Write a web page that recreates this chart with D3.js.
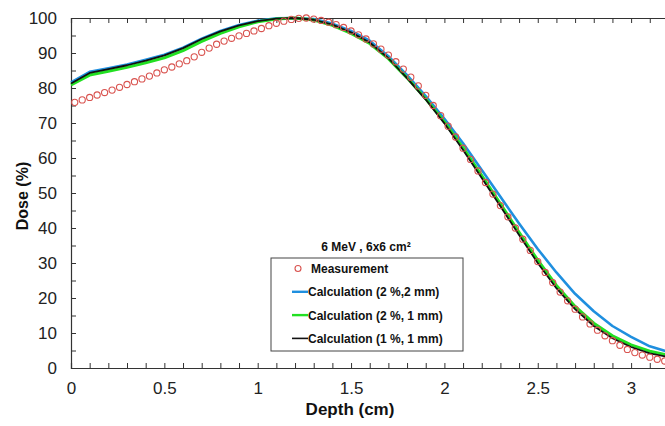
<!DOCTYPE html>
<html>
<head>
<meta charset="utf-8">
<script src="https://cdn.jsdelivr.net/npm/d3@7"></script>
<style>
  html, body { margin: 0; padding: 0; background: #fff; }
  svg { display: block; font-family: "Liberation Sans", Arial, sans-serif; }
</style>
</head>
<body>
<svg id="chart" width="665" height="426"></svg>
<script>
// Measurement points (depth in cm, dose in %)
const measDepth = [
  0.02, 0.06, 0.10, 0.14, 0.18, 0.22, 0.26, 0.30, 0.34, 0.38,
  0.42, 0.46, 0.50, 0.54, 0.58, 0.62, 0.66, 0.70, 0.74, 0.78,
  0.82, 0.86, 0.90, 0.94, 0.98, 1.02, 1.06, 1.10, 1.14, 1.18,
  1.22, 1.26, 1.30, 1.34, 1.38, 1.42, 1.46, 1.50, 1.54, 1.58,
  1.62, 1.66, 1.70, 1.74, 1.78, 1.82, 1.86, 1.90, 1.94, 1.98,
  2.02, 2.06, 2.10, 2.14, 2.18, 2.22, 2.26, 2.30, 2.34, 2.38,
  2.42, 2.46, 2.50, 2.54, 2.58, 2.62, 2.66, 2.70, 2.74, 2.78,
  2.82, 2.86, 2.90, 2.94, 2.98, 3.02, 3.06, 3.10, 3.14, 3.18
];
const measDose = [
  75.9, 76.6, 77.3, 78.0, 78.7, 79.4, 80.2, 81.0, 81.8, 82.6,
  83.4, 84.3, 85.2, 86.0, 86.9, 87.8, 88.9, 90.2, 91.4, 92.5,
  93.4, 94.2, 94.9, 95.6, 96.3, 97.0, 97.8, 98.5, 99.1, 99.6,
  99.9, 100.0, 99.7, 99.3, 98.8, 98.1, 97.3, 96.3, 95.2, 94.0,
  92.6, 91.1, 89.4, 87.5, 85.4, 83.1, 80.6, 77.9, 75.0, 72.1,
  69.1, 66.0, 62.8, 59.6, 56.3, 53.0, 49.7, 46.4, 43.2, 40.0,
  36.8, 33.6, 30.4, 27.3, 24.4, 21.7, 19.2, 16.8, 14.6, 12.6,
  10.8, 9.2, 7.8, 6.5, 5.3, 4.4, 3.7, 3.1, 2.5, 2.0
];

// Calculated curves, sampled every 0.1 cm
const calcDepth = [
  0.0, 0.1, 0.2, 0.3, 0.4, 0.5, 0.6, 0.7, 0.8, 0.9, 1.0,
  1.1, 1.2, 1.3, 1.4, 1.5, 1.6, 1.7, 1.8, 1.9, 2.0, 2.1,
  2.2, 2.3, 2.4, 2.5, 2.6, 2.7, 2.8, 2.9, 3.0, 3.1, 3.2
];
const calc2pc2mm = [
  81.6, 84.6, 85.6, 86.7, 88.1, 89.5, 91.5, 94.1, 96.3, 98.0, 99.2,
  99.9, 100.0, 99.7, 98.4, 96.3, 93.5, 89.1, 83.7, 77.7, 71.2, 64.2,
  56.6, 48.9, 41.3, 34.0, 27.3, 21.2, 16.2, 12.0, 8.9, 6.2, 4.6
];
const calc2pc1mm = [
  80.9, 83.7, 84.8, 85.9, 87.2, 88.6, 90.7, 93.3, 95.6, 97.5, 98.9,
  99.7, 100.0, 99.4, 97.9, 95.6, 92.7, 88.4, 82.9, 76.9, 70.3, 62.9,
  55.0, 46.9, 38.8, 30.8, 23.6, 17.6, 12.8, 9.2, 6.6, 4.8, 3.6
];
const calc1pc1mm = [
  81.3, 84.3, 85.4, 86.5, 87.8, 89.3, 91.4, 94.0, 96.2, 97.9, 99.1,
  99.8, 100.0, 99.5, 98.1, 95.9, 93.0, 88.5, 82.8, 76.7, 69.9, 62.3,
  54.3, 46.2, 38.0, 30.0, 22.8, 16.8, 12.0, 8.5, 6.0, 4.2, 3.1
];

const seriesNames = ['Measurement', 'Calculation (2 %,2 mm)', 'Calculation (2 %, 1 mm)', 'Calculation (1 %, 1 mm)'];
const seriesColors = ['#d9534f', '#1f8fdf', '#22e022', '#111111'];
const xMajor = [0, 0.5, 1, 1.5, 2, 2.5, 3];
const yMajor = [0, 10, 20, 30, 40, 50, 60, 70, 80, 90, 100];

const svg = d3.select('#chart');
const plotLeft = 71, plotTop = 18, plotBottom = 368;

const x = d3.scaleLinear().domain([0, 3.2]).range([plotLeft, plotLeft + 3.2 * 186.7]);
const y = d3.scaleLinear().domain([0, 100]).range([plotBottom, plotTop]);

const axisColor = '#333';

// Minor ticks
svg.append('g').attr('transform', `translate(0,${plotBottom})`)
  .call(d3.axisBottom(x).tickValues(d3.range(0, 3.21, 0.1)).tickSize(-5).tickFormat(''));
svg.append('g').attr('transform', `translate(0,${plotTop})`)
  .call(d3.axisTop(x).tickValues(d3.range(0, 3.21, 0.1)).tickSize(-5).tickFormat(''));
svg.append('g').attr('transform', `translate(${plotLeft},0)`)
  .call(d3.axisLeft(y).tickValues(d3.range(0, 101, 5)).tickSize(-5).tickFormat(''));

// Labelled ticks
svg.append('g').attr('class', 'lab').attr('transform', `translate(0,${plotBottom})`)
  .call(d3.axisBottom(x).tickValues(xMajor).tickSize(0).tickPadding(14).tickFormat(d3.format('')));
svg.append('g').attr('class', 'lab').attr('transform', `translate(${plotLeft},0)`)
  .call(d3.axisLeft(y).tickValues(yMajor).tickSize(0).tickPadding(14).tickFormat(d3.format('')));

svg.selectAll('.domain').attr('stroke', axisColor).attr('stroke-width', 1.2);
svg.selectAll('.tick line').attr('stroke', axisColor);
svg.selectAll('.lab .domain').remove();
svg.selectAll('.lab text').attr('font-size', 17).attr('fill', '#222')
  .attr('font-family', '"Liberation Sans", Arial, sans-serif');

// Axis titles
svg.append('text')
  .attr('x', 350).attr('y', 415)
  .attr('text-anchor', 'middle')
  .attr('font-size', 17).attr('font-weight', 'bold').attr('fill', '#111')
  .text('Depth (cm)');
svg.append('text')
  .attr('transform', 'translate(28,196) rotate(-90)')
  .attr('text-anchor', 'middle')
  .attr('font-size', 16).attr('font-weight', 'bold').attr('fill', '#111')
  .text('Dose (%)');

// Calculated curves
const line = d3.line().x((d, i) => x(calcDepth[i])).y(d => y(d));
const calcs = [
  { values: calc2pc2mm, color: seriesColors[1], width: 2.6 },
  { values: calc2pc1mm, color: seriesColors[2], width: 3 },
  { values: calc1pc1mm, color: seriesColors[3], width: 1.8 }
];
svg.append('g').selectAll('path')
  .data(calcs)
  .enter().append('path')
  .attr('d', d => line(d.values))
  .attr('fill', 'none')
  .attr('stroke', d => d.color)
  .attr('stroke-width', d => d.width)
  .attr('stroke-linejoin', 'round');

// Measurement circles
svg.append('g').selectAll('circle')
  .data(measDose)
  .enter().append('circle')
  .attr('cx', (d, i) => x(measDepth[i]))
  .attr('cy', d => y(d))
  .attr('r', 3.1)
  .attr('fill', 'none')
  .attr('stroke', seriesColors[0])
  .attr('stroke-width', 1.1);

// Legend
const lg = svg.append('g');
lg.append('text')
  .attr('x', 366).attr('y', 251)
  .attr('text-anchor', 'middle')
  .attr('font-size', 12).attr('font-weight', 'bold').attr('fill', '#111')
  .text('6 MeV , 6x6 cm²');
lg.append('rect')
  .attr('x', 271).attr('y', 258).attr('width', 192).attr('height', 93)
  .attr('fill', '#fff').attr('stroke', '#444').attr('stroke-width', 1);

const rows = lg.selectAll('g.row')
  .data(seriesNames)
  .enter().append('g')
  .attr('transform', (d, i) => `translate(0,${268.5 + i * 23.3})`);
rows.each(function(d, i) {
  const r = d3.select(this);
  if (i === 0) {
    r.append('circle').attr('cx', 298).attr('cy', 0).attr('r', 3)
      .attr('fill', 'none').attr('stroke', seriesColors[0]).attr('stroke-width', 1.1);
    r.append('text').attr('x', 311).attr('y', 4.5)
      .attr('font-size', 12).attr('font-weight', 'bold').attr('fill', '#111').text(d);
  } else {
    r.append('line').attr('x1', 292).attr('x2', 308).attr('y1', 0).attr('y2', 0)
      .attr('stroke', seriesColors[i]).attr('stroke-width', i === 3 ? 1.6 : 2.4);
    r.append('text').attr('x', 308).attr('y', 4.5)
      .attr('font-size', 12).attr('font-weight', 'bold').attr('fill', '#111').text(d);
  }
});
</script>
</body>
</html>
